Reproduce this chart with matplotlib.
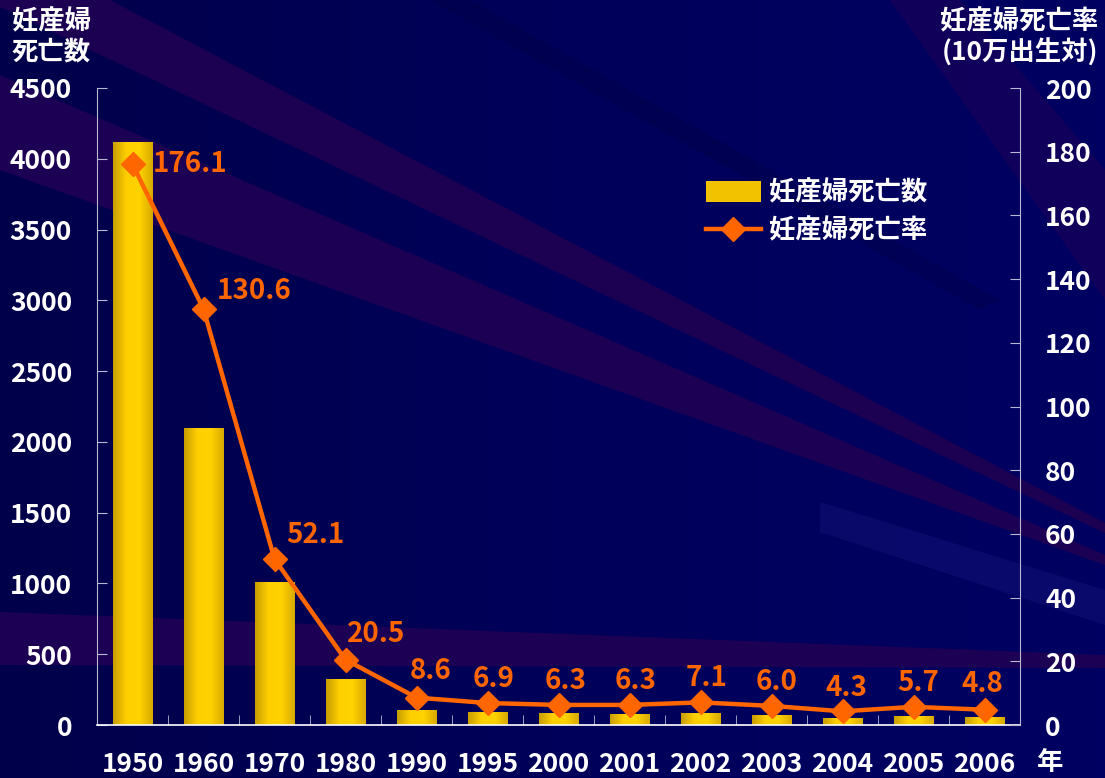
import numpy as np
import matplotlib
matplotlib.use("Agg")
import matplotlib.pyplot as plt
from matplotlib.colors import LinearSegmentedColormap
from matplotlib.patches import Polygon, Patch
from matplotlib.lines import Line2D

plt.rcParams['font.family'] = ['Noto Sans CJK JP', 'DejaVu Sans']
plt.rcParams['font.weight'] = 'bold'

# data
years = ['1950', '1960', '1970', '1980', '1990', '1995', '2000',
         '2001', '2002', '2003', '2004', '2005', '2006']
deaths = [4117, 2097, 1008, 323, 105, 85, 78, 76, 84, 69, 49, 62, 54]
rates = [176.1, 130.6, 52.1, 20.5, 8.6, 6.9, 6.3, 6.3, 7.1, 6.0, 4.3, 5.7, 4.8]

W, H = 1105, 778
fig = plt.figure(figsize=(W / 100, H / 100), dpi=100)

# background with light beams (pixel coords)
bg = fig.add_axes([0, 0, 1, 1], zorder=-10)
bg.set_xlim(0, W)
bg.set_ylim(H, 0)
bg.axis('off')
grad = np.linspace(0, 1, 200)[None, :]
bgcmap = LinearSegmentedColormap.from_list('bg', ['#00004a', '#00005a', '#000062'])
bg.imshow(grad, extent=(0, W, H, 0), cmap=bgcmap, aspect='auto')
beams = [
    ([(110, 0), (1105, 523), (1105, 533), (0, 7), (0, 0)], '#1c0052', 1.0),
    ([(0, 75), (1105, 555), (1105, 565), (0, 170)], '#1c0054', 1.0),
    ([(0, 612), (1105, 655), (1105, 668), (0, 665)], '#1c0054', 1.0),
    ([(820, 502), (1105, 590), (1105, 625), (820, 532)], '#16167a', 0.45),
    ([(890, 0), (960, 0), (1105, 170), (1105, 300)], '#1c0058', 0.6),
    ([(430, 0), (470, 0), (1000, 300), (980, 310)], '#00003c', 0.25),
]
for pts, col, a in beams:
    bg.add_patch(Polygon(pts, closed=True, facecolor=col, edgecolor='none', alpha=a))

ax = fig.add_axes([97 / W, 1 - 725 / H, (1020 - 97) / W, (725 - 88) / H])
ax.set_facecolor('none')
ax2 = ax.twinx()

x = np.arange(len(years))
bw = 0.56
gold = LinearSegmentedColormap.from_list('gold', ['#c89e00', '#ffcf00', '#ffd200', '#d8aa00'])
bars = ax.bar(x, deaths, width=bw, color='none', zorder=2)
for b in bars:
    ax.imshow(np.linspace(0, 1, 64)[None, :], cmap=gold, aspect='auto', zorder=2,
              extent=(b.get_x(), b.get_x() + b.get_width(), 0, b.get_height()))

ax.set_xlim(-0.5, len(years) - 0.5)
ax.set_ylim(0, 4500)
ax.set_yticks(np.arange(0, 4501, 500))
ax.set_xticks(x)
ax.set_xticklabels(years)
ax.set_xticks(np.arange(-0.5, len(years)), minor=True)

ax2.plot(x, rates, color='#ff6600', lw=3.2, marker='D', markersize=12, zorder=3)
ax2.set_ylim(0, 200)
ax2.set_yticks(np.arange(0, 201, 20))

# label offsets in pixels (dx, dy)
offs = [(20, 0), (13, 18), (12, 24), (1, 26), (14, 27), (6, 24), (7, 24),
        (6, 24), (6, 24), (5, 24), (4, 23), (5, 24), (-2, 26)]
for i, (xi, r) in enumerate(zip(x, rates)):
    dx, dy = offs[i]
    ha = 'left' if i < 4 else 'center'
    ax2.annotate(f'{r:.1f}', (xi, r), xytext=(dx * 0.72, dy * 0.72),
                 textcoords='offset points', ha=ha, va='center',
                 color='#ff6600', fontsize=20, fontweight='bold')

axis_col = '#b8b8d0'
for a in (ax, ax2):
    for s in a.spines.values():
        s.set_visible(False)
ax.spines['left'].set_visible(True)
ax.spines['left'].set_color(axis_col)
ax.spines['bottom'].set_visible(True)
ax.spines['bottom'].set_color('white')
ax.spines['bottom'].set_linewidth(1.2)
ax2.spines['right'].set_visible(True)
ax2.spines['right'].set_color(axis_col)

ax.tick_params(axis='y', direction='in', length=7, color=axis_col, labelcolor='white',
               labelsize=19, pad=18)
ax2.tick_params(axis='y', direction='in', length=7, color=axis_col, labelcolor='white',
                labelsize=19, pad=18)
ax.tick_params(axis='x', which='major', length=0, labelcolor='white', labelsize=19, pad=19)
ax.tick_params(axis='x', which='minor', direction='in', length=7, color=axis_col)

fig.text(12 / W, 1 - 8 / H, '妊産婦\n死亡数', color='white', fontsize=19,
         fontweight='bold', ha='left', va='top', linespacing=1.15)
fig.text(1098 / W, 1 - 8 / H, '妊産婦死亡率\n(10万出生対)', color='white', fontsize=19,
         fontweight='bold', ha='right', va='top', linespacing=1.15)
fig.text(1050 / W, 1 - 762 / H, '年', color='white', fontsize=19,
         fontweight='bold', ha='center', va='center')

handles = [Patch(facecolor='#f2c200', edgecolor='none'),
           Line2D([], [], color='#ff6600', lw=3.2, marker='D', markersize=12)]
leg = ax2.legend(handles, ['妊産婦死亡数', '妊産婦死亡率'], loc='upper left',
                 bbox_to_anchor=(682 / W, 1 - 156 / H), bbox_transform=fig.transFigure,
                 frameon=False, fontsize=19, handlelength=2.1, handleheight=0.8,
                 handletextpad=0.3, labelspacing=0.4)
for t in leg.get_texts():
    t.set_color('white')
    t.set_fontweight('bold')

fig.savefig('out.png', dpi=100, facecolor=fig.get_facecolor())
